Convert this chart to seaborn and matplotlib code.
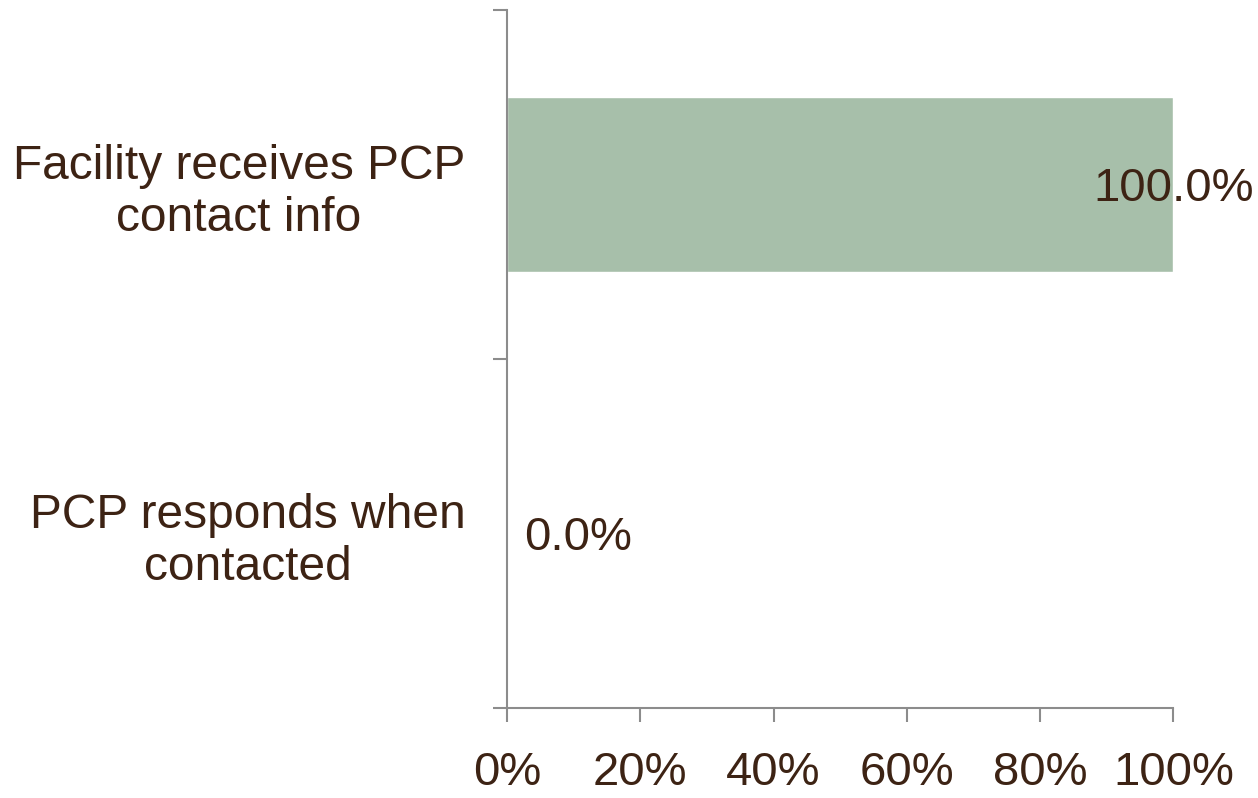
import matplotlib
matplotlib.use("Agg")
import matplotlib.pyplot as plt
from matplotlib.ticker import FixedLocator, FuncFormatter
import seaborn as sns
import pandas as pd

categories = ["Facility receives PCP\ncontact info", "PCP responds when\ncontacted"]
values = [100.0, 0.0]
x_ticks = [0, 20, 40, 60, 80, 100]

bar_color = "#a7bfaa"
text_color = "#3d2314"
axis_color = "#8c8c8c"

sns.set_theme(style="white")
plt.rcParams["font.family"] = ["Liberation Sans", "DejaVu Sans"]

df = pd.DataFrame({"category": categories, "value": values})

fig = plt.figure(figsize=(12.58, 7.98), dpi=100)
ax = fig.add_axes([0.403, 0.1128, 0.5297, 0.8747])

sns.barplot(data=df, y="category", x="value", orient="h", color=bar_color,
            width=0.5, saturation=1, ax=ax)

ax.set_xlim(0, 100)
ax.set_ylim(1.5, -0.5)
ax.set_xlabel("")
ax.set_ylabel("")

for side in ["top", "right"]:
    ax.spines[side].set_visible(False)
for side in ["left", "bottom"]:
    ax.spines[side].set_color(axis_color)
    ax.spines[side].set_linewidth(1.5)

ax.xaxis.set_major_locator(FixedLocator(x_ticks))
ax.xaxis.set_major_formatter(FuncFormatter(lambda v, p: f"{v:.0f}%"))
ax.tick_params(axis="x", which="major", direction="out", length=10, width=1.5,
               color=axis_color, labelsize=34, labelcolor=text_color, pad=21,
               bottom=True)

# category boundaries carry the tick marks, labels sit at band centres
ax.yaxis.set_major_locator(FixedLocator([-0.5, 0.5, 1.5]))
ax.yaxis.set_major_formatter(FuncFormatter(lambda v, p: ""))
ax.yaxis.set_minor_locator(FixedLocator(list(range(len(categories)))))
ax.set_yticklabels(categories, minor=True)
ax.tick_params(axis="y", which="major", direction="out", length=10, width=1.5,
               color=axis_color, left=True)
ax.tick_params(axis="y", which="minor", length=0, labelsize=34.5,
               labelcolor=text_color, pad=30, left=True)
for lbl in ax.get_yticklabels(minor=True):
    lbl.set_multialignment("center")

ax.grid(False)

for i, v in enumerate(values):
    label = f"{v:.1f}%"
    if v > 0:
        ax.annotate(label, xy=(v, i), xytext=(0, -3), textcoords="offset points",
                    ha="center", va="center", fontsize=34, color=text_color)
    else:
        ax.annotate(label, xy=(v, i), xytext=(12, -3), textcoords="offset points",
                    ha="left", va="center", fontsize=34, color=text_color)

fig.savefig("out.png", dpi=100)
